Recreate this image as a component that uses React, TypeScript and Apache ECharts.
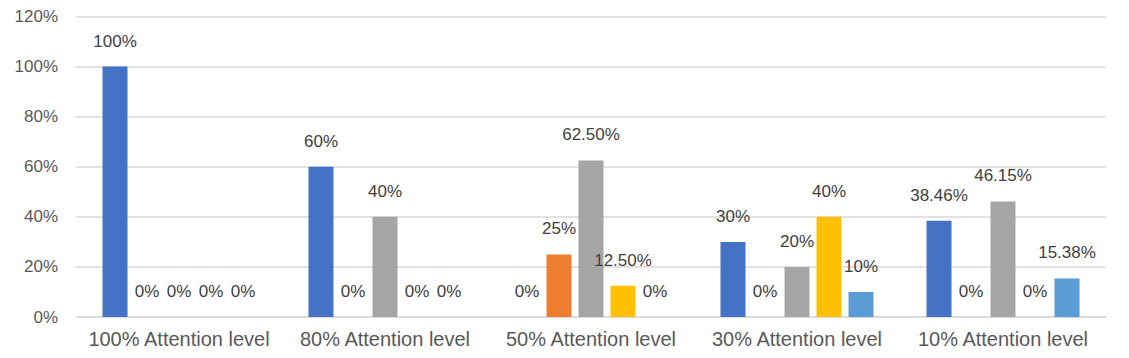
import React, { useEffect, useRef } from "react";
import * as echarts from "echarts";

const categories = [
  "100% Attention level",
  "80% Attention level",
  "50% Attention level",
  "30% Attention level",
  "10% Attention level",
];
const seriesA = [100, 60, 0, 30, 38.46];
const seriesB = [0, 0, 25, 0, 0];
const seriesC = [0, 40, 62.5, 20, 46.15];
const seriesD = [0, 0, 12.5, 40, 0];
const seriesE = [0, 0, 0, 10, 15.38];
const colors = ["#4472C4", "#ED7D31", "#A5A5A5", "#FFC000", "#5B9BD5"];

const fmt = (v: number) => (Number.isInteger(v) ? `${v}%` : `${v.toFixed(2)}%`);

export default function App() {
  const ref = useRef<HTMLDivElement>(null);
  useEffect(() => {
    if (!ref.current) return;
    const chart = echarts.init(ref.current, undefined, { renderer: "svg" });
    const all = [seriesA, seriesB, seriesC, seriesD, seriesE];
    chart.setOption({
      animation: false,
      textStyle: { fontFamily: "'Liberation Sans', Arial, sans-serif" },
      grid: { left: 68, right: 23, top: 6, bottom: 41 },
      xAxis: {
        type: "category",
        data: categories,
        axisTick: { show: false },
        axisLine: { lineStyle: { color: "#D9D9D9", width: 1.5 } },
        axisLabel: { color: "#595959", fontSize: 20, margin: 12, interval: 0 },
      },
      yAxis: {
        type: "value",
        min: 0,
        max: 120,
        interval: 20,
        axisLine: { show: false },
        axisTick: { show: false },
        splitLine: { lineStyle: { color: "#D9D9D9", width: 1.5 } },
        axisLabel: { color: "#595959", fontSize: 17, margin: 18, formatter: (v: number) => `${v}%` },
      },
      series: all.map((d, i) => ({
        type: "bar",
        data: d,
        barWidth: 25,
        barGap: "28%",
        itemStyle: { color: colors[i] },
        label: {
          show: true,
          position: "top",
          distance: 17,
          color: "#404040",
          fontSize: 17,
          formatter: (p: any) => fmt(p.value),
        },
      })),
    });
    return () => chart.dispose();
  }, []);
  return <div ref={ref} style={{ width: 1121, height: 350 }} />;
}
